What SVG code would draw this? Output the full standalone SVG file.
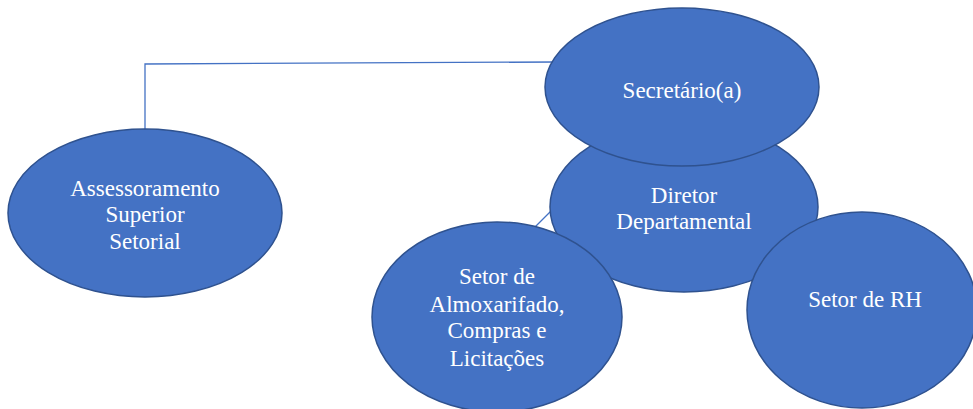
<svg xmlns="http://www.w3.org/2000/svg" width="973" height="409" viewBox="0 0 973 409">
<style>
.n{fill:#4472C4;stroke:#2F528F;stroke-width:1.5}
.t{fill:#FFFFFF;font-family:"Liberation Serif","Times New Roman",serif;font-size:23px;text-anchor:middle}
.c{fill:none;stroke:#4472C4;stroke-width:1.3}
</style>
<rect width="973" height="409" fill="#FFFFFF"/>
<g id="connectors">
<polyline class="c" points="145,131 145,64 556,62"/>
<line class="c" x1="532" y1="230" x2="552" y2="210"/>
</g>
<g id="diretor">
<ellipse class="n" cx="684" cy="207" rx="134" ry="85"/>
<text class="t" x="684" y="203">Diretor</text>
<text class="t" x="684" y="229">Departamental</text>
</g>
<g id="secretario">
<ellipse class="n" cx="682" cy="87" rx="137" ry="79"/>
<text class="t" x="682" y="98">Secretário(a)</text>
</g>
<g id="assessoramento">
<ellipse class="n" cx="145" cy="213" rx="137" ry="84"/>
<text class="t" x="145" y="196">Assessoramento</text>
<text class="t" x="145" y="222">Superior</text>
<text class="t" x="145" y="249">Setorial</text>
</g>
<g id="almoxarifado">
<ellipse class="n" cx="497" cy="317" rx="125" ry="95"/>
<text class="t" x="497" y="284">Setor de</text>
<text class="t" x="497" y="312">Almoxarifado,</text>
<text class="t" x="497" y="338">Compras e</text>
<text class="t" x="497" y="366">Licitações</text>
</g>
<g id="rh">
<ellipse class="n" cx="862" cy="310" rx="115" ry="98"/>
<text class="t" x="865" y="307">Setor de RH</text>
</g>
</svg>
